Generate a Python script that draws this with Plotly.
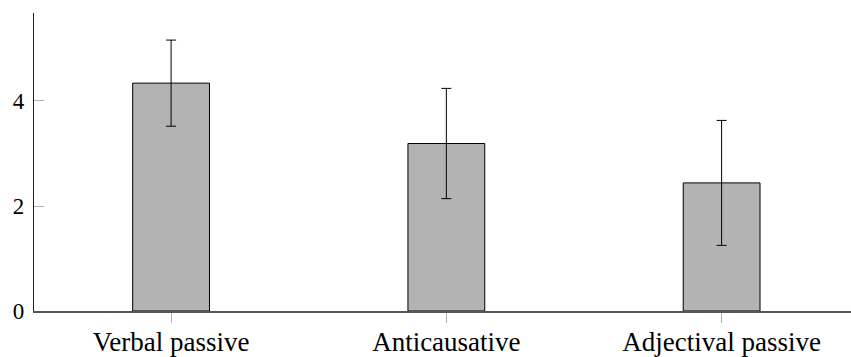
import plotly.graph_objects as go

categories = ["Verbal passive", "Anticausative", "Adjectival passive"]
means = [4.34, 3.19, 2.44]
errors = [0.82, 1.05, 1.19]
y_ticks = [0, 2, 4]

FONT = "Liberation Serif"

fig = go.Figure()
fig.add_trace(go.Bar(
    x=[0, 1, 2],
    y=means,
    width=0.279,
    marker=dict(color="#b3b3b3", line=dict(color="#000000", width=1)),
    error_y=dict(type="data", array=errors, visible=True, color="#000000",
                 thickness=1, width=5),
    showlegend=False,
))

fig.update_layout(
    width=851, height=357,
    margin=dict(l=34, r=0, t=13, b=46, autoexpand=False),
    plot_bgcolor="white", paper_bgcolor="white",
    font=dict(family=FONT, size=24, color="#000000"),
    xaxis=dict(
        range=[-0.498, 2.47], automargin=False,
        tickmode="array", tickvals=[0, 1, 2], ticktext=categories,
        ticks="outside", ticklen=10, tickcolor="#b0b0b0", tickwidth=1,
        ticklabelstandoff=-4,
        showline=True, linecolor="#555555", linewidth=1.5,
        showgrid=False, zeroline=False,
        tickfont=dict(family=FONT, size=27),
    ),
    yaxis=dict(
        range=[0, 5.676], automargin=False,
        tickmode="array", tickvals=y_ticks, ticktext=[str(v) for v in y_ticks],
        ticks="inside", ticklen=10, tickcolor="#b0b0b0", tickwidth=1,
        ticklabelstandoff=4,
        showline=True, linecolor="#222222", linewidth=1.2,
        showgrid=False, zeroline=False,
        tickfont=dict(family=FONT, size=23),
    ),
)

fig.write_html("out.html", config={"displayModeBar": False},
               post_script="document.body.style.margin='0';")
